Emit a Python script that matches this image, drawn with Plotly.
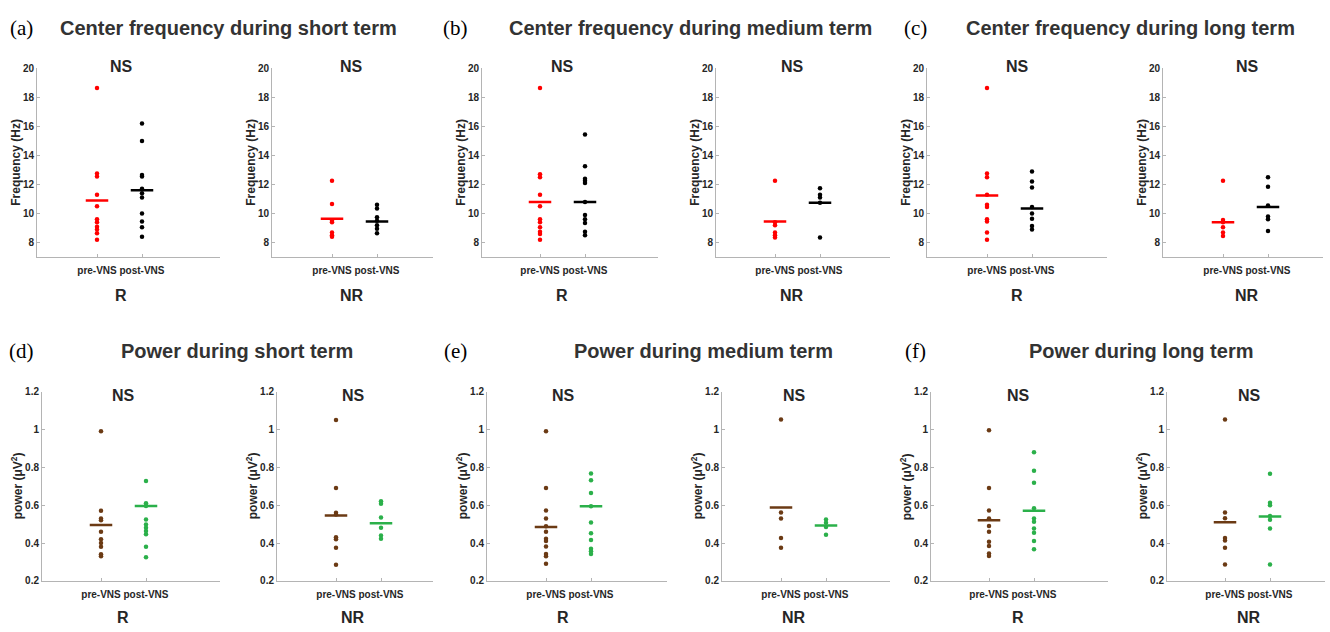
import plotly.graph_objects as go

# ---------------- data ----------------
categories = ["pre-VNS", "post-VNS"]
groups = ["R", "NR", "R", "NR", "R", "NR"]
sig_labels = ["NS", "NS", "NS", "NS", "NS", "NS"]

# Center frequency (Hz)
cf_short_R_pre = [18.65, 12.75, 12.55, 11.3, 10.5, 9.6, 9.4, 9.1, 8.9, 8.65, 8.2]
cf_short_R_post = [16.2, 15.0, 12.65, 12.55, 11.7, 11.4, 11.1, 10.0, 9.45, 9.05, 8.4]
cf_short_NR_pre = [12.25, 10.65, 9.5, 9.4, 8.7, 8.5, 8.4]
cf_short_NR_post = [10.6, 10.35, 9.75, 9.5, 9.2, 8.95, 8.65]
cf_medium_R_pre = [18.65, 12.7, 12.5, 11.3, 10.5, 9.6, 9.4, 9.05, 8.75, 8.6, 8.2]
cf_medium_R_post = [15.45, 13.25, 12.4, 12.25, 12.1, 10.8, 9.9, 9.6, 9.35, 8.75, 8.5]
cf_medium_NR_pre = [12.25, 9.4, 9.2, 8.7, 8.5, 8.35]
cf_medium_NR_post = [11.75, 11.3, 11.1, 10.75, 8.35]
cf_long_R_pre = [18.65, 12.75, 12.5, 11.3, 10.6, 10.45, 9.6, 9.45, 8.7, 8.2]
cf_long_R_post = [12.9, 12.2, 11.8, 10.45, 10.0, 9.65, 9.15, 8.9]
cf_long_NR_pre = [12.25, 9.55, 9.4, 9.05, 8.7, 8.45]
cf_long_NR_post = [12.5, 11.85, 10.55, 9.8, 9.6, 8.8]
cf_mean_pre = [10.9, 9.65, 10.8, 9.45, 11.25, 9.4]
cf_mean_post = [11.6, 9.45, 10.8, 10.75, 10.35, 10.45]

# Power (uV^2)
pw_short_R_pre = [0.99, 0.57, 0.53, 0.52, 0.46, 0.42, 0.40, 0.38, 0.34, 0.33]
pw_short_R_post = [0.727, 0.61, 0.595, 0.524, 0.498, 0.48, 0.463, 0.446, 0.38, 0.325]
pw_short_NR_pre = [1.05, 0.69, 0.56, 0.55, 0.43, 0.42, 0.375, 0.285]
pw_short_NR_post = [0.62, 0.608, 0.535, 0.48, 0.44, 0.422]
pw_medium_R_pre = [0.99, 0.69, 0.572, 0.529, 0.489, 0.46, 0.422, 0.41, 0.382, 0.342, 0.33, 0.29]
pw_medium_R_post = [0.767, 0.731, 0.664, 0.594, 0.508, 0.451, 0.416, 0.37, 0.356, 0.342]
pw_medium_NR_pre = [1.052, 0.561, 0.53, 0.426, 0.375]
pw_medium_NR_post = [0.524, 0.507, 0.484, 0.444]
pw_long_R_pre = [0.995, 0.69, 0.572, 0.529, 0.49, 0.46, 0.407, 0.384, 0.344, 0.332]
pw_long_R_post = [0.88, 0.782, 0.718, 0.584, 0.529, 0.512, 0.477, 0.454, 0.41, 0.367]
pw_long_NR_pre = [1.052, 0.561, 0.531, 0.426, 0.413, 0.375, 0.287]
pw_long_NR_post = [0.766, 0.613, 0.599, 0.543, 0.523, 0.477, 0.287]
pw_mean_pre = [0.495, 0.545, 0.485, 0.587, 0.52, 0.509]
pw_mean_post = [0.595, 0.505, 0.594, 0.492, 0.571, 0.54]

cf_ticks = [8, 10, 12, 14, 16, 18, 20]
pw_ticks = [0.2, 0.4, 0.6, 0.8, 1.0, 1.2]
pw_ticklabels = ["0.2", "0.4", "0.6", "0.8", "1", "1.2"]

row_titles = [
    ["Center frequency during short term", "Center frequency during medium term", "Center frequency during long term"],
    ["Power during short term", "Power during medium term", "Power during long term"],
]
panel_letters = [["(a)", "(b)", "(c)"], ["(d)", "(e)", "(f)"]]

# ---------------- layout constants (pixels, reference image coords) ----------------
W, H = 1330, 632
AX_X = [
    [(37, 220), (272, 433), (482, 658), (716, 890), (927, 1107), (1163, 1323)],
    [(42, 220), (277, 433), (487, 667), (722, 890), (931, 1108), (1167, 1325)],
]
PRE_X = [[97, 332, 540, 775, 987, 1223], [101, 336, 546, 781, 989, 1225]]
UNIT = 45.0
AX_Y = [(63.5, 256), (393, 586)]
LABEL_X = [[121, 352, 562, 792, 1017, 1247], [123, 353, 563, 794, 1018, 1249]]
NS_Y = [62, 397]
GROUP_Y = [295, 623]
TITLE_Y = [22, 352]
LETTER_X = [21, 455, 915]
TITLE_X = [[228, 690, 1130], [237, 704, 1141]]


def fy(py):
    return 1 - py / H


TXT = "#262626"
AXC = "#b4b4b4"
FONT = "Liberation Sans"

cf_pre = [cf_short_R_pre, cf_short_NR_pre, cf_medium_R_pre, cf_medium_NR_pre, cf_long_R_pre, cf_long_NR_pre]
cf_post = [cf_short_R_post, cf_short_NR_post, cf_medium_R_post, cf_medium_NR_post, cf_long_R_post, cf_long_NR_post]
pw_pre = [pw_short_R_pre, pw_short_NR_pre, pw_medium_R_pre, pw_medium_NR_pre, pw_long_R_pre, pw_long_NR_pre]
pw_post = [pw_short_R_post, pw_short_NR_post, pw_medium_R_post, pw_medium_NR_post, pw_long_R_post, pw_long_NR_post]

rows = [
    dict(pre=cf_pre, post=cf_post, mpre=cf_mean_pre, mpost=cf_mean_post,
         cpre="#ff0000", cpost="#000000", yrange=[7, 20], ticks=cf_ticks,
         ticktext=[str(t) for t in cf_ticks], ytitle="Frequency (Hz)", yshift=-21),
    dict(pre=pw_pre, post=pw_post, mpre=pw_mean_pre, mpost=pw_mean_post,
         cpre="#6b3a14", cpost="#2bb04a", yrange=[0.2, 1.2], ticks=pw_ticks,
         ticktext=pw_ticklabels, ytitle="power (μV<sup>2</sup>)", yshift=-25),
]

fig = go.Figure()
annotations = []
layout_axes = {}

for r, spec in enumerate(rows):
    for c in range(6):
        k = r * 6 + c + 1
        xs = "x" if k == 1 else f"x{k}"
        ys = "y" if k == 1 else f"y{k}"
        left, right = AX_X[r][c]
        pre = PRE_X[r][c]
        xmin = 1 - (pre - left) / UNIT
        xmax = 1 + (right - pre) / UNIT
        top, bot = AX_Y[r]

        half = 0.25
        for xpos, mval, col in [(1, spec["mpre"][c], spec["cpre"]), (2, spec["mpost"][c], spec["cpost"])]:
            fig.add_trace(go.Scatter(
                x=[xpos - half, xpos + half], y=[mval, mval], mode="lines",
                line=dict(color=col, width=2.5), xaxis=xs, yaxis=ys,
                showlegend=False, hoverinfo="skip"))
        for xpos, vals, col in [(1, spec["pre"][c], spec["cpre"]), (2, spec["post"][c], spec["cpost"])]:
            fig.add_trace(go.Scatter(
                x=[xpos] * len(vals), y=vals, mode="markers",
                marker=dict(color=col, size=4.5, line=dict(width=0)),
                xaxis=xs, yaxis=ys, showlegend=False))

        xname = "xaxis" if k == 1 else f"xaxis{k}"
        yname = "yaxis" if k == 1 else f"yaxis{k}"
        layout_axes[xname] = dict(
            domain=[left / W, right / W], anchor=ys, range=[xmin, xmax],
            tickmode="array", tickvals=[1, 2], ticktext=categories,
            showgrid=False, zeroline=False, showline=True, linecolor=AXC, linewidth=1,
            ticks="inside", ticklen=3, tickcolor=AXC, ticklabelstandoff=4,
            tickfont=dict(family=FONT, size=10, color=TXT, weight="bold"), fixedrange=True)
        layout_axes[yname] = dict(
            domain=[fy(bot), fy(top)], anchor=xs, range=spec["yrange"],
            tickmode="array", tickvals=spec["ticks"], ticktext=spec["ticktext"],
            showgrid=False, zeroline=False, showline=True, linecolor=AXC, linewidth=1,
            ticks="inside", ticklen=3, tickcolor=AXC,
            tickfont=dict(family=FONT, size=10, color=TXT, weight="bold"), fixedrange=True)

        annotations.append(dict(
            text=spec["ytitle"], textangle=-90, xref=f"{xs} domain", yref=f"{ys} domain",
            x=0, y=0.5, xanchor="center", yanchor="middle", xshift=spec["yshift"],
            showarrow=False, font=dict(family=FONT, size=12, color=TXT, weight="bold")))
        annotations.append(dict(
            text=sig_labels[c], xref="paper", yref="paper",
            x=LABEL_X[r][c] / W, y=fy(NS_Y[r]), xanchor="center", yanchor="middle",
            showarrow=False, font=dict(family=FONT, size=16, color=TXT, weight="bold")))
        annotations.append(dict(
            text=groups[c], xref="paper", yref="paper",
            x=LABEL_X[r][c] / W, y=fy(GROUP_Y[r]), xanchor="center", yanchor="middle",
            showarrow=False, font=dict(family=FONT, size=16, color=TXT, weight="bold")))

for r in range(2):
    for j in range(3):
        annotations.append(dict(
            text=panel_letters[r][j], xref="paper", yref="paper",
            x=LETTER_X[j] / W, y=fy(TITLE_Y[r]), xanchor="center", yanchor="middle",
            showarrow=False, font=dict(family="Liberation Serif", size=21, color="#000000")))
        annotations.append(dict(
            text=row_titles[r][j], xref="paper", yref="paper",
            x=TITLE_X[r][j] / W, y=fy(TITLE_Y[r]), xanchor="center", yanchor="middle",
            showarrow=False, font=dict(family=FONT, size=20, color="#333333", weight="bold")))

fig.update_layout(
    width=W, height=H, margin=dict(l=0, r=0, t=0, b=0),
    paper_bgcolor="white", plot_bgcolor="white",
    annotations=annotations, **layout_axes)

fig.write_html(
    "out.html",
    config={"displayModeBar": False, "staticPlot": True},
    post_script="document.body.style.margin='0';document.documentElement.style.overflow='hidden';document.body.style.overflow='hidden';",
)
